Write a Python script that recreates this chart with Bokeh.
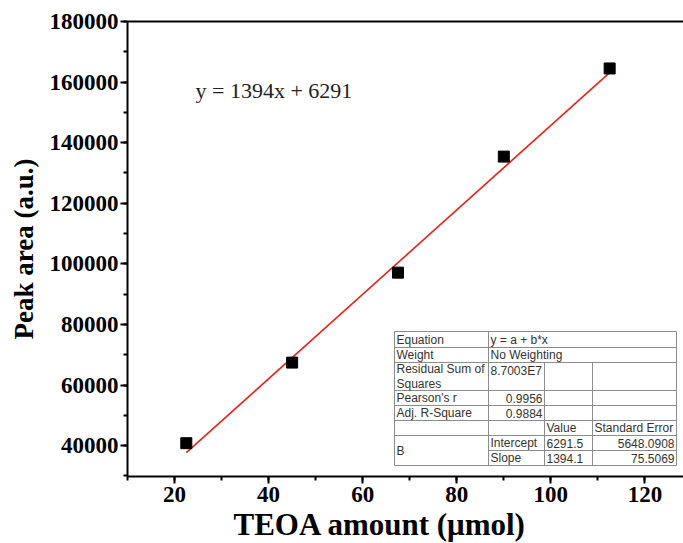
from bokeh.plotting import figure
from bokeh.models import Range1d, LinearAxis, FixedTicker, ColumnDataSource, PrintfTickFormatter, Title
from bokeh.core.properties import value
from bokeh.embed import file_html
from bokeh.resources import INLINE

# ---- data ----
teoa = [22.5, 45.0, 67.5, 90.0, 112.5]
peak_area = [40800, 67400, 97100, 135400, 164500]
intercept = 6291.5
slope = 1394.1
equation_text = "y = 1394x + 6291"
x_ticks = [20, 40, 60, 80, 100, 120]
y_ticks = [40000, 60000, 80000, 100000, 120000, 140000, 160000, 180000]
x_title = "TEOA amount (\u03bcmol)"
y_title = "Peak area (a.u.)"

table_rows = [
    ["Equation", "y = a + b*x", "", ""],
    ["Weight", "No Weighting", "", ""],
    ["Residual Sum of\nSquares", "8.7003E7", "", ""],
    ["Pearson's r", "0.9956", "", ""],
    ["Adj. R-Square", "0.9884", "", ""],
    ["", "", "Value", "Standard Error"],
    ["B", "Intercept", "6291.5", "5648.0908"],
    ["", "Slope", "1394.1", "75.5069"],
]

# ---- layout ----
W, H = 683, 543
FL, FR, FT, FB = 127, 683, 21, 476
X0, X1 = 10.0, 128.2
Y0, Y1 = 29800.0, 180000.0

def xd(px):
    return X0 + (px - FL) / (FR - FL) * (X1 - X0)

def yd(py):
    return Y0 + (FB - py) / (FB - FT) * (Y1 - Y0)

p = figure(width=W, height=H, output_backend="svg", toolbar_location=None,
           x_range=Range1d(X0, X1), y_range=Range1d(Y0, Y1),
           min_border_left=FL, min_border_right=0, min_border_top=FT,
           min_border_bottom=H - FB)
p.outline_line_color = None
p.xgrid.grid_line_color = None
p.ygrid.grid_line_color = None
p.background_fill_color = "white"
p.border_fill_color = "white"

serif = "Liberation Serif"
for ax in (p.xaxis[0], p.yaxis[0]):
    ax.axis_line_width = 2
    ax.axis_line_color = "black"
    ax.major_tick_line_width = 2
    ax.minor_tick_line_width = 2
    ax.major_tick_in = 0
    ax.major_tick_out = 7
    ax.minor_tick_in = 0
    ax.minor_tick_out = 4
    ax.major_label_text_font = serif
    ax.major_label_text_font_style = "bold"
    ax.major_label_text_font_size = "23px"
    ax.major_label_text_color = "black"
    ax.axis_label_text_font = serif
    ax.axis_label_text_font_style = "bold"
    ax.axis_label_text_color = "black"

p.xaxis.ticker = FixedTicker(ticks=x_ticks, minor_ticks=list(range(10, 130, 10)))
p.yaxis.ticker = FixedTicker(ticks=y_ticks, minor_ticks=list(range(30000, 190000, 10000)))
p.yaxis.formatter = PrintfTickFormatter(format="%d")
p.xaxis.formatter = PrintfTickFormatter(format="%d")
p.yaxis.axis_label = y_title
p.yaxis.axis_label_text_font_size = "27px"
p.xaxis.major_label_standoff = 3
p.yaxis.major_label_standoff = 2
p.yaxis.axis_label_standoff = 8

xt = Title(text=x_title, align="left", offset=106, standoff=0,
           text_font=serif, text_font_style="bold", text_font_size="31px",
           text_color="black")
p.add_layout(xt, "below")

top = LinearAxis(ticker=FixedTicker(ticks=[]), major_label_text_font_size="0px",
                 major_tick_out=0, minor_tick_out=0, axis_line_width=2,
                 major_label_standoff=0)
p.add_layout(top, "above")

# fit line
fx = [teoa[0], teoa[-1]]
fy = [intercept + slope * v for v in fx]
p.line(fx, fy, line_color="#e8241c", line_width=1.6)

# data points
p.scatter(teoa, peak_area, marker="square", size=11, color="black")

# equation text
p.text(x=[xd(195)], y=[yd(90)], text=[equation_text], text_font=value(serif),
       text_font_size="22px", text_baseline="middle", text_align="left",
       text_color="#222222")

# ---- fit table ----
rows_y = [331, 347, 362, 390, 405, 420, 435, 450, 465]
cols_x = [394, 488, 544, 592, 676]
lc = "#8c8c8c"
xs0, ys0, xs1, ys1 = [], [], [], []
def seg(a, b, c, d):
    xs0.append(xd(a)); ys0.append(yd(b)); xs1.append(xd(c)); ys1.append(yd(d))
for i, ry in enumerate(rows_y):
    if ry == 450:
        seg(cols_x[1], ry, cols_x[4], ry)
    else:
        seg(cols_x[0], ry, cols_x[4], ry)
seg(cols_x[0], rows_y[0], cols_x[0], rows_y[-1])
seg(cols_x[1], rows_y[0], cols_x[1], rows_y[-1])
seg(cols_x[4], rows_y[0], cols_x[4], rows_y[-1])
seg(cols_x[2], rows_y[2], cols_x[2], rows_y[-1])
seg(cols_x[3], rows_y[2], cols_x[3], rows_y[-1])
p.segment(xs0, ys0, xs1, ys1, line_color=lc, line_width=1)

tx, ty, tt, ta = [], [], [], []
right_aligned = {(3, 1), (4, 1), (6, 3), (7, 3)}
for r, row in enumerate(table_rows):
    top_y, bot_y = rows_y[r], rows_y[r + 1]
    for c, txt in enumerate(row):
        if not txt:
            continue
        cy = (top_y + bot_y) / 2
        if r == 6 and c == 0:
            cy = (rows_y[6] + rows_y[8]) / 2
        if r == 2 and c == 1:
            cy = top_y + 8
        if (r, c) in right_aligned:
            tx.append(xd(cols_x[c + 1] - 2)); ta.append("right")
        else:
            tx.append(xd(cols_x[c] + 2)); ta.append("left")
        ty.append(yd(cy)); tt.append(txt)
src = ColumnDataSource(dict(x=tx, y=ty, text=tt, align=ta))
p.text(x="x", y="y", text="text", source=src, text_align="align",
       text_baseline="middle", text_font=value("Liberation Sans"),
       text_font_size="12px", text_color="#333333", text_line_height=1.05)

open("out.html", "w").write(file_html(p, INLINE))
